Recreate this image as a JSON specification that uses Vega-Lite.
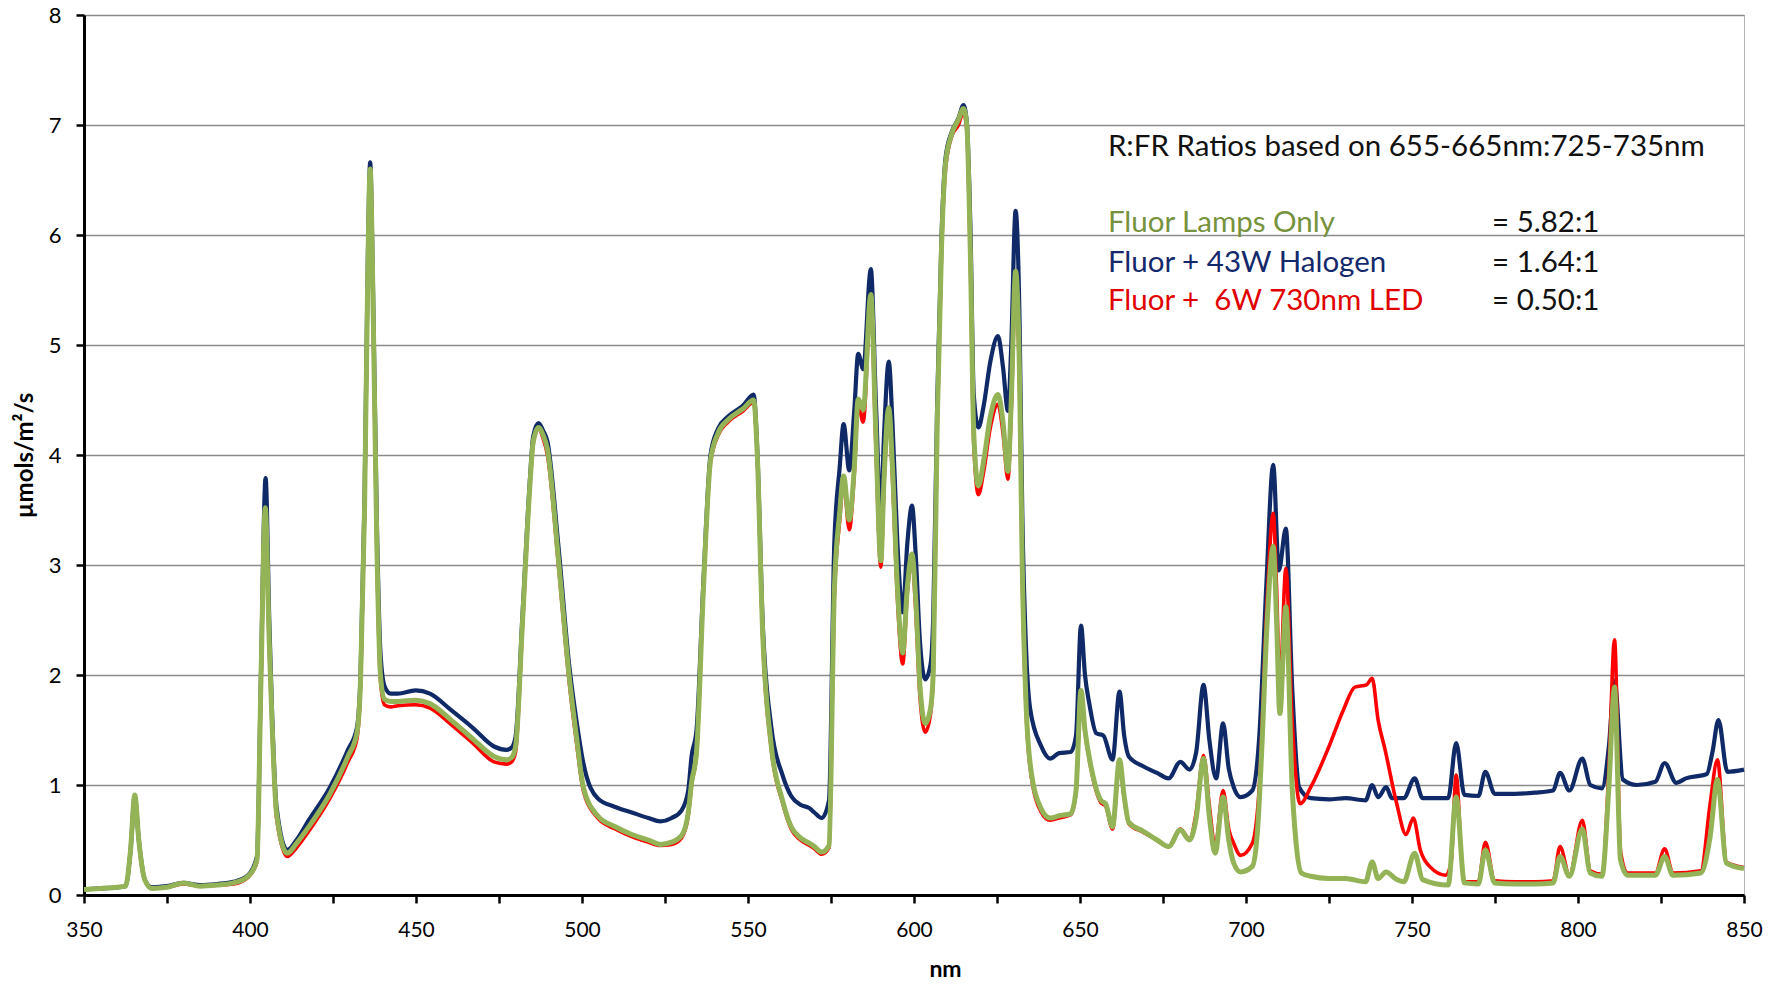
{
  "$schema": "https://vega.github.io/schema/vega-lite/v6.json",
  "width": 1660,
  "height": 880,
  "autosize": {"type": "none"},
  "padding": {"left": 84, "top": 15, "right": 35, "bottom": 89},
  "background": "white",
  "config": {"view": {"stroke": "#b5b5b5", "strokeWidth": 1}},
  "datasets": {
    "halogen": [
      {"nm":350,"v":0.05},{"nm":355,"v":0.06},{"nm":360,"v":0.07},{"nm":362.5,"v":0.08},{"nm":364,"v":0.4},{"nm":365.3,"v":0.9},{"nm":366.5,"v":0.5},{"nm":368.3,"v":0.14},{"nm":370.4,"v":0.07},{"nm":375,"v":0.08},{"nm":380,"v":0.11},{"nm":385,"v":0.09},{"nm":390,"v":0.1},{"nm":395,"v":0.12},{"nm":399.4,"v":0.18},{"nm":402.1,"v":0.35},{"nm":403.3,"v":2.0},{"nm":404.7,"v":3.79},{"nm":405.8,"v":2.5},{"nm":406.6,"v":1.7},{"nm":408,"v":0.8},{"nm":411.2,"v":0.41},{"nm":414,"v":0.5},{"nm":417.7,"v":0.68},{"nm":424.1,"v":0.98},{"nm":429.5,"v":1.32},{"nm":432.2,"v":1.52},{"nm":433.3,"v":2.0},{"nm":434.5,"v":3.6},{"nm":435.5,"v":5.8},{"nm":436.2,"v":6.66},{"nm":437,"v":5.6},{"nm":438.2,"v":3.4},{"nm":439.3,"v":2.2},{"nm":440.5,"v":1.9},{"nm":442.4,"v":1.83},{"nm":444.5,"v":1.83},{"nm":449.9,"v":1.86},{"nm":454.2,"v":1.83},{"nm":460.6,"v":1.68},{"nm":467.1,"v":1.52},{"nm":473.5,"v":1.35},{"nm":477.3,"v":1.32},{"nm":478.8,"v":1.34},{"nm":480,"v":1.44},{"nm":482.1,"v":2.56},{"nm":484.3,"v":3.77},{"nm":485.3,"v":4.17},{"nm":486.9,"v":4.29},{"nm":488.3,"v":4.22},{"nm":489.6,"v":4.12},{"nm":492.9,"v":3.17},{"nm":496.1,"v":2.1},{"nm":498.5,"v":1.55},{"nm":500.4,"v":1.2},{"nm":504.7,"v":0.88},{"nm":510,"v":0.8},{"nm":515,"v":0.75},{"nm":520,"v":0.7},{"nm":523.6,"v":0.67},{"nm":527,"v":0.7},{"nm":530,"v":0.77},{"nm":532,"v":0.95},{"nm":533,"v":1.26},{"nm":534.5,"v":1.5},{"nm":536.6,"v":2.87},{"nm":538.7,"v":4.0},{"nm":541,"v":4.24},{"nm":544,"v":4.35},{"nm":548.5,"v":4.45},{"nm":551.7,"v":4.55},{"nm":552.8,"v":4.04},{"nm":554.4,"v":2.5},{"nm":557,"v":1.53},{"nm":560.4,"v":1.09},{"nm":563,"v":0.9},{"nm":565.8,"v":0.82},{"nm":568.5,"v":0.79},{"nm":570,"v":0.75},{"nm":572.2,"v":0.7},{"nm":574.4,"v":0.86},{"nm":576,"v":3.2},{"nm":577.6,"v":3.88},{"nm":578.8,"v":4.28},{"nm":580.5,"v":3.86},{"nm":582,"v":4.4},{"nm":583.2,"v":4.92},{"nm":584.7,"v":4.78},{"nm":587,"v":5.69},{"nm":588.5,"v":4.5},{"nm":590,"v":3.47},{"nm":591,"v":4.2},{"nm":592.4,"v":4.85},{"nm":593.5,"v":4.3},{"nm":595,"v":3.2},{"nm":596.6,"v":2.57},{"nm":598,"v":3.2},{"nm":599.4,"v":3.54},{"nm":600.5,"v":3.1},{"nm":601.8,"v":2.3},{"nm":603.4,"v":1.96},{"nm":605,"v":2.1},{"nm":605.8,"v":2.53},{"nm":607,"v":4.5},{"nm":608.3,"v":6.0},{"nm":609.5,"v":6.7},{"nm":611.4,"v":6.94},{"nm":613.4,"v":7.06},{"nm":614.9,"v":7.18},{"nm":615.9,"v":7.03},{"nm":617,"v":6.06},{"nm":618,"v":4.55},{"nm":619.4,"v":4.25},{"nm":621,"v":4.45},{"nm":623,"v":4.85},{"nm":625.3,"v":5.08},{"nm":626.8,"v":4.8},{"nm":628.3,"v":4.4},{"nm":629.3,"v":5.0},{"nm":630.6,"v":6.22},{"nm":631.8,"v":5.2},{"nm":632.6,"v":3.5},{"nm":633.8,"v":2.2},{"nm":635,"v":1.69},{"nm":638.2,"v":1.36},{"nm":641,"v":1.24},{"nm":643.7,"v":1.29},{"nm":647.2,"v":1.3},{"nm":648.8,"v":1.45},{"nm":650.3,"v":2.45},{"nm":651.5,"v":2.0},{"nm":652.8,"v":1.74},{"nm":654.9,"v":1.47},{"nm":657,"v":1.45},{"nm":659.8,"v":1.23},{"nm":661.9,"v":1.85},{"nm":663.3,"v":1.45},{"nm":664.7,"v":1.26},{"nm":669,"v":1.17},{"nm":673.2,"v":1.11},{"nm":676.7,"v":1.06},{"nm":680.2,"v":1.21},{"nm":683,"v":1.14},{"nm":685,"v":1.3},{"nm":687.2,"v":1.91},{"nm":689,"v":1.4},{"nm":691,"v":1.06},{"nm":693.1,"v":1.56},{"nm":694.8,"v":1.15},{"nm":696.3,"v":0.98},{"nm":698.4,"v":0.89},{"nm":701.9,"v":0.95},{"nm":704,"v":1.44},{"nm":706.1,"v":2.8},{"nm":708.2,"v":3.91},{"nm":709.9,"v":2.95},{"nm":712,"v":3.33},{"nm":713.9,"v":1.89},{"nm":716,"v":0.98},{"nm":719.5,"v":0.88},{"nm":725,"v":0.87},{"nm":730,"v":0.88},{"nm":736,"v":0.86},{"nm":738,"v":1.0},{"nm":739.8,"v":0.89},{"nm":742.2,"v":0.98},{"nm":744,"v":0.88},{"nm":747.5,"v":0.88},{"nm":750.8,"v":1.06},{"nm":753.2,"v":0.88},{"nm":760.9,"v":0.88},{"nm":763.3,"v":1.38},{"nm":765.8,"v":0.91},{"nm":770,"v":0.9},{"nm":772.1,"v":1.12},{"nm":774.9,"v":0.92},{"nm":781,"v":0.92},{"nm":787,"v":0.93},{"nm":792.5,"v":0.95},{"nm":794.6,"v":1.11},{"nm":797.4,"v":0.95},{"nm":801.3,"v":1.24},{"nm":803.7,"v":1.0},{"nm":807.2,"v":0.97},{"nm":809.3,"v":1.35},{"nm":811,"v":1.95},{"nm":813.5,"v":1.05},{"nm":817.7,"v":1.0},{"nm":823.3,"v":1.03},{"nm":826.1,"v":1.2},{"nm":829.6,"v":1.02},{"nm":832.5,"v":1.06},{"nm":838.8,"v":1.1},{"nm":840.5,"v":1.3},{"nm":842.3,"v":1.59},{"nm":845,"v":1.12},{"nm":850,"v":1.14}
    ],
    "led": [
      {"nm":350,"v":0.05},{"nm":355,"v":0.06},{"nm":360,"v":0.07},{"nm":362.5,"v":0.08},{"nm":364,"v":0.4},{"nm":365.3,"v":0.9},{"nm":366.5,"v":0.5},{"nm":368.3,"v":0.14},{"nm":370.4,"v":0.06},{"nm":375,"v":0.07},{"nm":380,"v":0.1},{"nm":385,"v":0.08},{"nm":390,"v":0.09},{"nm":395,"v":0.1},{"nm":399.4,"v":0.16},{"nm":402.1,"v":0.3},{"nm":403.3,"v":1.9},{"nm":404.6,"v":3.48},{"nm":405.8,"v":2.25},{"nm":406.6,"v":1.55},{"nm":408,"v":0.7},{"nm":411.2,"v":0.35},{"nm":414,"v":0.43},{"nm":417.7,"v":0.58},{"nm":424.1,"v":0.88},{"nm":429.5,"v":1.21},{"nm":432.2,"v":1.42},{"nm":433.3,"v":1.9},{"nm":434.5,"v":3.45},{"nm":435.5,"v":5.65},{"nm":436.2,"v":6.58},{"nm":437,"v":5.45},{"nm":438.2,"v":3.1},{"nm":439.3,"v":1.95},{"nm":440.5,"v":1.73},{"nm":442.4,"v":1.71},{"nm":444.5,"v":1.72},{"nm":449.9,"v":1.73},{"nm":454.2,"v":1.7},{"nm":460.6,"v":1.55},{"nm":467.1,"v":1.38},{"nm":473.5,"v":1.21},{"nm":477.3,"v":1.19},{"nm":478.8,"v":1.21},{"nm":480,"v":1.3},{"nm":482.1,"v":2.45},{"nm":484.3,"v":3.7},{"nm":485.3,"v":4.1},{"nm":486.9,"v":4.24},{"nm":488.3,"v":4.15},{"nm":489.6,"v":4.0},{"nm":492.9,"v":3.0},{"nm":496.1,"v":1.95},{"nm":498.5,"v":1.35},{"nm":500.4,"v":0.95},{"nm":504.7,"v":0.7},{"nm":510,"v":0.6},{"nm":515,"v":0.53},{"nm":520,"v":0.48},{"nm":523.6,"v":0.45},{"nm":527,"v":0.46},{"nm":530,"v":0.52},{"nm":532,"v":0.72},{"nm":533,"v":1.0},{"nm":534.5,"v":1.28},{"nm":536.6,"v":2.78},{"nm":538.7,"v":3.93},{"nm":541,"v":4.18},{"nm":544,"v":4.3},{"nm":548.5,"v":4.4},{"nm":551.7,"v":4.48},{"nm":552.8,"v":3.98},{"nm":554.4,"v":2.35},{"nm":557,"v":1.33},{"nm":560.4,"v":0.84},{"nm":563,"v":0.6},{"nm":565.8,"v":0.5},{"nm":568.5,"v":0.45},{"nm":570,"v":0.42},{"nm":572.2,"v":0.37},{"nm":574.4,"v":0.43},{"nm":576,"v":2.7},{"nm":577.6,"v":3.4},{"nm":578.8,"v":3.75},{"nm":580.5,"v":3.32},{"nm":582,"v":3.82},{"nm":583.2,"v":4.45},{"nm":584.7,"v":4.3},{"nm":587,"v":5.4},{"nm":588.5,"v":4.1},{"nm":590,"v":2.98},{"nm":591,"v":3.75},{"nm":592.4,"v":4.4},{"nm":593.5,"v":3.8},{"nm":595,"v":2.7},{"nm":596.6,"v":2.1},{"nm":598,"v":2.75},{"nm":599.4,"v":3.05},{"nm":600.5,"v":2.6},{"nm":601.8,"v":1.8},{"nm":603.4,"v":1.48},{"nm":605,"v":1.65},{"nm":605.8,"v":2.0},{"nm":607,"v":4.25},{"nm":608.3,"v":5.85},{"nm":609.5,"v":6.6},{"nm":611.4,"v":6.9},{"nm":613.4,"v":7.0},{"nm":614.9,"v":7.12},{"nm":615.9,"v":6.95},{"nm":617,"v":5.7},{"nm":618,"v":4.1},{"nm":619.4,"v":3.64},{"nm":621,"v":3.85},{"nm":623,"v":4.25},{"nm":625.3,"v":4.46},{"nm":626.8,"v":4.2},{"nm":628.3,"v":3.78},{"nm":629.3,"v":4.4},{"nm":630.6,"v":5.6},{"nm":631.8,"v":4.6},{"nm":632.6,"v":2.95},{"nm":633.8,"v":1.65},{"nm":635,"v":1.15},{"nm":638.2,"v":0.76},{"nm":641,"v":0.68},{"nm":643.7,"v":0.7},{"nm":647.2,"v":0.73},{"nm":648.8,"v":0.93},{"nm":650.3,"v":1.84},{"nm":651.5,"v":1.48},{"nm":653.5,"v":1.12},{"nm":656.3,"v":0.84},{"nm":657.7,"v":0.81},{"nm":659.8,"v":0.6},{"nm":661.9,"v":1.2},{"nm":663.3,"v":0.88},{"nm":664.7,"v":0.65},{"nm":669,"v":0.57},{"nm":673.2,"v":0.5},{"nm":676.7,"v":0.44},{"nm":680.2,"v":0.6},{"nm":683,"v":0.51},{"nm":685,"v":0.75},{"nm":687.2,"v":1.27},{"nm":689,"v":0.8},{"nm":690.7,"v":0.44},{"nm":693.1,"v":0.95},{"nm":694.8,"v":0.6},{"nm":696.3,"v":0.47},{"nm":698.4,"v":0.36},{"nm":701.9,"v":0.47},{"nm":704,"v":0.98},{"nm":706.4,"v":2.7},{"nm":708.2,"v":3.47},{"nm":709.2,"v":2.8},{"nm":710.2,"v":1.9},{"nm":712,"v":2.97},{"nm":713.9,"v":1.59},{"nm":716.3,"v":0.83},{"nm":719.5,"v":0.98},{"nm":725,"v":1.35},{"nm":729.3,"v":1.68},{"nm":732.8,"v":1.89},{"nm":736.3,"v":1.91},{"nm":738,"v":1.97},{"nm":739.8,"v":1.59},{"nm":741.9,"v":1.32},{"nm":745.4,"v":0.83},{"nm":748.2,"v":0.55},{"nm":750.4,"v":0.7},{"nm":752.5,"v":0.41},{"nm":755.3,"v":0.26},{"nm":760.2,"v":0.18},{"nm":761.8,"v":0.3},{"nm":763.3,"v":1.09},{"nm":765,"v":0.3},{"nm":765.8,"v":0.12},{"nm":770,"v":0.12},{"nm":772.1,"v":0.48},{"nm":774.9,"v":0.13},{"nm":781,"v":0.12},{"nm":787,"v":0.12},{"nm":792.5,"v":0.13},{"nm":794.6,"v":0.44},{"nm":797.4,"v":0.18},{"nm":801.3,"v":0.68},{"nm":803.7,"v":0.22},{"nm":807.2,"v":0.19},{"nm":809.3,"v":1.14},{"nm":811,"v":2.32},{"nm":812.8,"v":0.4},{"nm":814.9,"v":0.2},{"nm":823.3,"v":0.2},{"nm":826.1,"v":0.42},{"nm":828.6,"v":0.2},{"nm":837,"v":0.22},{"nm":839.8,"v":0.83},{"nm":842,"v":1.23},{"nm":844.7,"v":0.3},{"nm":850,"v":0.25}
    ],
    "fluor": [
      {"nm":350,"v":0.05},{"nm":355,"v":0.06},{"nm":360,"v":0.07},{"nm":362.5,"v":0.08},{"nm":364,"v":0.4},{"nm":365.3,"v":0.91},{"nm":366.5,"v":0.5},{"nm":368.3,"v":0.14},{"nm":370.4,"v":0.06},{"nm":375,"v":0.07},{"nm":380,"v":0.11},{"nm":385,"v":0.08},{"nm":390,"v":0.09},{"nm":395,"v":0.11},{"nm":399.4,"v":0.17},{"nm":402.1,"v":0.32},{"nm":403.3,"v":1.95},{"nm":404.6,"v":3.52},{"nm":405.8,"v":2.3},{"nm":406.6,"v":1.6},{"nm":408,"v":0.74},{"nm":411.2,"v":0.38},{"nm":414,"v":0.47},{"nm":417.7,"v":0.62},{"nm":424.1,"v":0.92},{"nm":429.5,"v":1.26},{"nm":432.2,"v":1.47},{"nm":433.3,"v":1.95},{"nm":434.5,"v":3.5},{"nm":435.5,"v":5.7},{"nm":436.2,"v":6.6},{"nm":437,"v":5.5},{"nm":438.2,"v":3.2},{"nm":439.3,"v":2.0},{"nm":440.5,"v":1.78},{"nm":442.4,"v":1.76},{"nm":444.5,"v":1.76},{"nm":449.9,"v":1.77},{"nm":454.2,"v":1.74},{"nm":460.6,"v":1.59},{"nm":467.1,"v":1.42},{"nm":473.5,"v":1.26},{"nm":477.3,"v":1.23},{"nm":478.8,"v":1.25},{"nm":480,"v":1.35},{"nm":482.1,"v":2.5},{"nm":484.3,"v":3.72},{"nm":485.3,"v":4.12},{"nm":486.9,"v":4.25},{"nm":488.3,"v":4.18},{"nm":489.6,"v":4.05},{"nm":492.9,"v":3.05},{"nm":496.1,"v":2.0},{"nm":498.5,"v":1.4},{"nm":500.4,"v":0.98},{"nm":504.7,"v":0.72},{"nm":510,"v":0.62},{"nm":515,"v":0.55},{"nm":520,"v":0.5},{"nm":523.6,"v":0.46},{"nm":527,"v":0.48},{"nm":530,"v":0.54},{"nm":532,"v":0.75},{"nm":533,"v":1.02},{"nm":534.5,"v":1.3},{"nm":536.6,"v":2.8},{"nm":538.7,"v":3.95},{"nm":541,"v":4.2},{"nm":544,"v":4.32},{"nm":548.5,"v":4.42},{"nm":551.7,"v":4.5},{"nm":552.8,"v":4.0},{"nm":554.4,"v":2.4},{"nm":557,"v":1.36},{"nm":560.4,"v":0.86},{"nm":563,"v":0.62},{"nm":565.8,"v":0.52},{"nm":568.5,"v":0.47},{"nm":570,"v":0.44},{"nm":572.2,"v":0.39},{"nm":574.4,"v":0.45},{"nm":576,"v":2.77},{"nm":577.6,"v":3.47},{"nm":578.8,"v":3.81},{"nm":580.5,"v":3.41},{"nm":582,"v":3.88},{"nm":583.2,"v":4.51},{"nm":584.7,"v":4.41},{"nm":587,"v":5.46},{"nm":588.5,"v":4.2},{"nm":590,"v":3.04},{"nm":591,"v":3.8},{"nm":592.4,"v":4.43},{"nm":593.5,"v":3.9},{"nm":595,"v":2.8},{"nm":596.6,"v":2.2},{"nm":598,"v":2.8},{"nm":599.4,"v":3.1},{"nm":600.5,"v":2.7},{"nm":601.8,"v":1.9},{"nm":603.4,"v":1.56},{"nm":605,"v":1.7},{"nm":605.8,"v":2.03},{"nm":607,"v":4.3},{"nm":608.3,"v":5.9},{"nm":609.5,"v":6.65},{"nm":611.4,"v":6.92},{"nm":613.4,"v":7.05},{"nm":614.9,"v":7.15},{"nm":615.9,"v":7.0},{"nm":617,"v":5.8},{"nm":618,"v":4.2},{"nm":619.4,"v":3.72},{"nm":621,"v":3.95},{"nm":623,"v":4.35},{"nm":625.3,"v":4.55},{"nm":626.8,"v":4.3},{"nm":628.3,"v":3.85},{"nm":629.3,"v":4.5},{"nm":630.6,"v":5.67},{"nm":631.8,"v":4.7},{"nm":632.6,"v":3.0},{"nm":633.8,"v":1.7},{"nm":635,"v":1.19},{"nm":638.2,"v":0.79},{"nm":641,"v":0.7},{"nm":643.7,"v":0.72},{"nm":647.2,"v":0.74},{"nm":648.8,"v":0.95},{"nm":650.3,"v":1.86},{"nm":651.5,"v":1.5},{"nm":653.5,"v":1.14},{"nm":656.3,"v":0.86},{"nm":657.7,"v":0.83},{"nm":659.8,"v":0.62},{"nm":661.9,"v":1.23},{"nm":663.3,"v":0.9},{"nm":664.7,"v":0.66},{"nm":669,"v":0.58},{"nm":673.2,"v":0.5},{"nm":676.7,"v":0.44},{"nm":680.2,"v":0.59},{"nm":683,"v":0.5},{"nm":685,"v":0.7},{"nm":687.2,"v":1.24},{"nm":689,"v":0.7},{"nm":690.7,"v":0.38},{"nm":693.1,"v":0.89},{"nm":694.8,"v":0.5},{"nm":696.3,"v":0.29},{"nm":698.4,"v":0.21},{"nm":701.9,"v":0.26},{"nm":703.5,"v":0.6},{"nm":704.7,"v":1.29},{"nm":706.4,"v":2.5},{"nm":708.2,"v":3.17},{"nm":709.2,"v":2.5},{"nm":710.2,"v":1.65},{"nm":712,"v":2.62},{"nm":713.9,"v":0.98},{"nm":715,"v":0.5},{"nm":716.7,"v":0.2},{"nm":719.5,"v":0.17},{"nm":725,"v":0.15},{"nm":730,"v":0.15},{"nm":736,"v":0.12},{"nm":738,"v":0.3},{"nm":739.8,"v":0.15},{"nm":742.2,"v":0.21},{"nm":745.4,"v":0.14},{"nm":747.5,"v":0.12},{"nm":750.8,"v":0.38},{"nm":753.2,"v":0.14},{"nm":760.9,"v":0.09},{"nm":763.3,"v":0.89},{"nm":765.8,"v":0.11},{"nm":770,"v":0.1},{"nm":772.1,"v":0.41},{"nm":774.9,"v":0.11},{"nm":781,"v":0.1},{"nm":787,"v":0.1},{"nm":792.5,"v":0.11},{"nm":794.6,"v":0.35},{"nm":797.4,"v":0.17},{"nm":801.3,"v":0.6},{"nm":803.7,"v":0.2},{"nm":807.2,"v":0.17},{"nm":809.3,"v":0.98},{"nm":811,"v":1.89},{"nm":812.8,"v":0.32},{"nm":814.9,"v":0.18},{"nm":823.3,"v":0.18},{"nm":826.1,"v":0.35},{"nm":828.6,"v":0.18},{"nm":837,"v":0.2},{"nm":839.8,"v":0.53},{"nm":842,"v":1.05},{"nm":844.7,"v":0.29},{"nm":850,"v":0.24}
    ],
    "notes": [
      {"nm":658.4,"v":6.8,"text":"R:FR Ratios based on 655-665nm:725-735nm","kind":"head"},
      {"nm":658.4,"v":6.11,"text":"Fluor Lamps Only","kind":"fluor"},
      {"nm":658.4,"v":5.75,"text":"Fluor + 43W Halogen","kind":"halogen"},
      {"nm":658.4,"v":5.4,"text":"Fluor +\u00a0 6W 730nm LED","kind":"led"},
      {"nm":774.1,"v":6.11,"text":"= 5.82:1","kind":"head"},
      {"nm":774.1,"v":5.75,"text":"= 1.64:1","kind":"head"},
      {"nm":774.1,"v":5.4,"text":"= 0.50:1","kind":"head"}
    ]
  },
  "layer": [
    {
      "data": {"name": "halogen"},
      "mark": {"type": "line", "interpolate": "monotone", "color": "#0f2a66", "strokeWidth": 4.2},
      "encoding": {
        "x": {"field": "nm", "type": "quantitative",
          "scale": {"domain": [350, 850], "nice": false, "zero": false},
          "axis": {
            "values": [350,375,400,425,450,475,500,525,550,575,600,625,650,675,700,725,750,775,800,825,850],
            "labelExpr": "datum.value % 50 === 0 ? datum.label : ''",
            "labelFlush": false, "labelOverlap": false,
            "grid": false, "domainColor": "#000000", "domainWidth": 3,
            "tickColor": "#000000", "tickWidth": 2.5, "tickSize": 8,
            "labelFont": "Lato, Liberation Sans, sans-serif", "labelFontSize": 21, "labelColor": "#000000", "labelPadding": 16,
            "title": "nm", "titleFont": "Lato, Liberation Sans, sans-serif", "titleFontSize": 23, "titleFontWeight": "bold", "titleColor": "#000000", "titleX": 861, "titlePadding": 18
          }},
        "y": {"field": "v", "type": "quantitative",
          "scale": {"domain": [0, 8], "nice": false},
          "axis": {
            "values": [0,0.5,1,1.5,2,2.5,3,3.5,4,4.5,5,5.5,6,6.5,7,7.5,8],
            "format": "d",
            "labelExpr": "datum.value % 1 === 0 ? datum.label : ''",
            "labelFlush": false, "labelOverlap": false,
            "grid": true, "gridColor": "#8a8a8a", "gridWidth": 1.3,
            "gridOpacity": {"condition": {"test": "datum.value % 1 !== 0 || datum.value === 0", "value": 0}, "value": 1},
            "domainColor": "#000000", "domainWidth": 3,
            "tickColor": "#000000", "tickWidth": 2.5, "tickSize": 8,
            "labelFont": "Lato, Liberation Sans, sans-serif", "labelFontSize": 22, "labelColor": "#000000", "labelPadding": 15,
            "title": "µmols/m²/s", "titleFont": "Lato, Liberation Sans, sans-serif", "titleFontSize": 24, "titleFontWeight": "bold", "titleColor": "#000000",
            "titleX": -59, "titleBaseline": "middle"
          }}
      }
    },
    {
      "data": {"name": "led"},
      "mark": {"type": "line", "interpolate": "monotone", "color": "#ff0000", "strokeWidth": 3.6},
      "encoding": {"x": {"field": "nm", "type": "quantitative"}, "y": {"field": "v", "type": "quantitative"}}
    },
    {
      "data": {"name": "fluor"},
      "mark": {"type": "line", "interpolate": "monotone", "color": "#93b356", "strokeWidth": 5},
      "encoding": {"x": {"field": "nm", "type": "quantitative"}, "y": {"field": "v", "type": "quantitative"}}
    },
    {
      "data": {"name": "notes"},
      "mark": {"type": "text", "align": "left", "baseline": "middle", "font": "Lato, Liberation Sans, sans-serif", "fontSize": 29.5},
      "encoding": {
        "x": {"field": "nm", "type": "quantitative"},
        "y": {"field": "v", "type": "quantitative"},
        "text": {"field": "text", "type": "nominal"},
        "color": {"field": "kind", "type": "nominal", "legend": null,
          "scale": {"domain": ["head", "fluor", "halogen", "led"], "range": ["#111111", "#76923c", "#13296b", "#e00000"]}}
      }
    }
  ]
}
